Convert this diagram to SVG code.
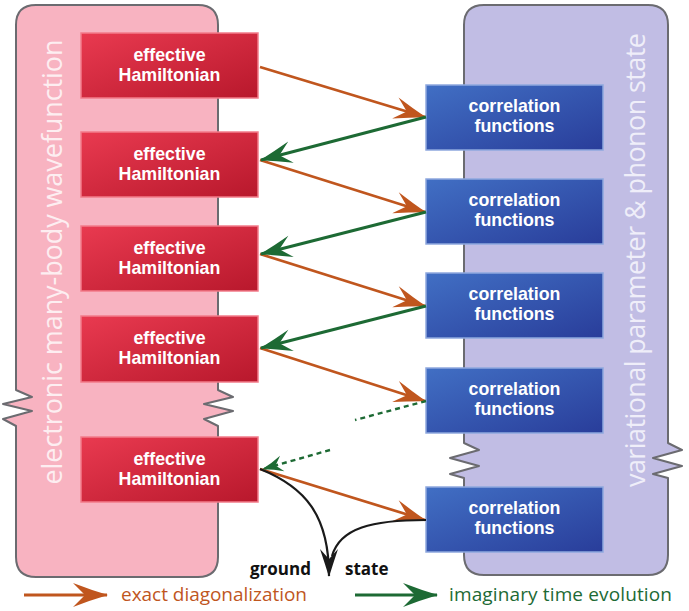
<svg xmlns="http://www.w3.org/2000/svg" width="689" height="611" viewBox="0 0 689 611">
<defs>
<linearGradient id="gRed" x1="0" y1="0" x2="1" y2="1">
<stop offset="0" stop-color="#e93a50"/><stop offset="1" stop-color="#b8182c"/>
</linearGradient>
<linearGradient id="gBlue" x1="0" y1="0" x2="1" y2="1">
<stop offset="0" stop-color="#416fc4"/><stop offset="1" stop-color="#293d9a"/>
</linearGradient>
<marker id="aO" markerUnits="userSpaceOnUse" orient="auto" refX="0" refY="0" markerWidth="40" markerHeight="30" overflow="visible">
<path d="M1,0 Q-15,-5 -31,-11 L-19,0 L-31,11 Q-15,5 1,0 Z" fill="#c0561e"/>
</marker>
<marker id="aG" markerUnits="userSpaceOnUse" orient="auto" refX="0" refY="0" markerWidth="40" markerHeight="30" overflow="visible">
<path d="M1,0 Q-15,-5 -31,-11 L-19,0 L-31,11 Q-15,5 1,0 Z" fill="#1d6a34"/>
</marker>
<marker id="aGs" markerUnits="userSpaceOnUse" orient="auto" refX="0" refY="0" markerWidth="30" markerHeight="20" overflow="visible">
<path d="M1,0 Q-10,-3 -20,-8 L-13,0 L-20,8 Q-10,3 1,0 Z" fill="#1d6a34"/>
</marker>
<marker id="aK" markerUnits="userSpaceOnUse" orient="auto" refX="0" refY="0" markerWidth="40" markerHeight="30" overflow="visible">
<path d="M1,0 Q-12,-4 -27,-9 L-17,0 L-27,9 Q-12,4 1,0 Z" fill="#1a1a1a"/>
</marker>
<marker id="aOL" markerUnits="userSpaceOnUse" orient="auto" refX="0" refY="0" markerWidth="40" markerHeight="30" overflow="visible">
<path d="M1,0 Q-16,-5 -34,-12 L-22,0 L-34,12 Q-16,5 1,0 Z" fill="#c0561e"/>
</marker>
<marker id="aGL" markerUnits="userSpaceOnUse" orient="auto" refX="0" refY="0" markerWidth="40" markerHeight="30" overflow="visible">
<path d="M1,0 Q-16,-5 -34,-12 L-22,0 L-34,12 Q-16,5 1,0 Z" fill="#1d6a34"/>
</marker>
</defs>
<style>
.panel{stroke:#6b6b70;stroke-width:2;stroke-linejoin:round}
.red{fill:url(#gRed);stroke:#f27c8a;stroke-width:1.5}
.blue{fill:url(#gBlue);stroke:#8ea8de;stroke-width:1.5}
.bt{font-family:"Liberation Sans",Arial,sans-serif;font-weight:bold;font-size:17.8px;fill:#ffffff;text-anchor:middle}
.vt{font-family:"Open Sans","DejaVu Sans",sans-serif;font-weight:normal;font-size:27px;text-anchor:middle}
.ex{fill:none;stroke:#c0561e;stroke-width:2.7;marker-end:url(#aO)}
.im{fill:none;stroke:#1d6a34;stroke-width:2.9;marker-end:url(#aG)}
.dash{fill:none;stroke:#1d6a34;stroke-width:2.4;stroke-dasharray:5 4}
.blk{fill:none;stroke:#1a1a1a;stroke-width:2.2}
.lg{font-family:"Open Sans","DejaVu Sans",sans-serif;font-size:19px}
.gs{font-family:"Open Sans","DejaVu Sans",sans-serif;font-weight:bold;font-size:17px;fill:#111}
</style>

<g id="panel-left">
<path class="panel" fill="#f8b3c1" d="M36,5 L198,5 Q218,5 218,25 L218,390 L233,397 L204,404 L233,411 L204,419 L218,426 L218,557 Q218,577 198,577 L36,577 Q16,577 16,557 L16,426 L3,419 L32,411 L3,404 L32,397 L16,390 L16,25 Q16,5 36,5 Z"/>
<text class="vt" fill="#fdeef1" transform="translate(62,262) rotate(-90)" textLength="445">electronic many-body wavefunction</text>
</g>

<g id="panel-right">
<path class="panel" fill="#c1bde4" d="M484,5 L648,5 Q668,5 668,25 L668,443 L682,450 L653,458 L682,466 L653,474 L668,478 L668,555 Q668,575 648,575 L484,575 Q464,575 464,555 L464,478 L450,474 L479,466 L450,458 L479,450 L464,443 L464,25 Q464,5 484,5 Z"/>
<text class="vt" fill="#efeef9" transform="translate(645,260) rotate(-90)" textLength="454">variational parameter &amp; phonon state</text>
</g>

<g id="h1"><rect class="red" x="81" y="33" width="177" height="65"/><text class="bt"><tspan x="169.5" y="61">effective</tspan><tspan x="169.5" y="81">Hamiltonian</tspan></text></g>
<g id="h2"><rect class="red" x="81" y="132" width="177" height="65"/><text class="bt"><tspan x="169.5" y="160">effective</tspan><tspan x="169.5" y="180">Hamiltonian</tspan></text></g>
<g id="h3"><rect class="red" x="81" y="226" width="177" height="65"/><text class="bt"><tspan x="169.5" y="254">effective</tspan><tspan x="169.5" y="274">Hamiltonian</tspan></text></g>
<g id="h4"><rect class="red" x="81" y="316" width="177" height="66"/><text class="bt"><tspan x="169.5" y="344">effective</tspan><tspan x="169.5" y="364">Hamiltonian</tspan></text></g>
<g id="h5"><rect class="red" x="81" y="437" width="177" height="65"/><text class="bt"><tspan x="169.5" y="465">effective</tspan><tspan x="169.5" y="485">Hamiltonian</tspan></text></g>

<g id="c1"><rect class="blue" x="426" y="85" width="177" height="65"/><text class="bt"><tspan x="514.5" y="112">correlation</tspan><tspan x="514.5" y="132">functions</tspan></text></g>
<g id="c2"><rect class="blue" x="426" y="179" width="177" height="65"/><text class="bt"><tspan x="514.5" y="206">correlation</tspan><tspan x="514.5" y="226">functions</tspan></text></g>
<g id="c3"><rect class="blue" x="426" y="273" width="177" height="65"/><text class="bt"><tspan x="514.5" y="300">correlation</tspan><tspan x="514.5" y="320">functions</tspan></text></g>
<g id="c4"><rect class="blue" x="426" y="368" width="177" height="65"/><text class="bt"><tspan x="514.5" y="395">correlation</tspan><tspan x="514.5" y="415">functions</tspan></text></g>
<g id="c5"><rect class="blue" x="426" y="487" width="177" height="65"/><text class="bt"><tspan x="514.5" y="514">correlation</tspan><tspan x="514.5" y="534">functions</tspan></text></g>

<g id="connectors">
<line class="ex" x1="260" y1="67" x2="425" y2="117"/>
<line class="ex" x1="260" y1="160" x2="425" y2="212"/>
<line class="ex" x1="260" y1="254" x2="425" y2="306"/>
<line class="ex" x1="260" y1="348" x2="425" y2="401"/>
<line class="ex" x1="260" y1="469" x2="425" y2="520"/>
<line class="im" x1="426" y1="117" x2="261" y2="160"/>
<line class="im" x1="426" y1="212" x2="261" y2="254"/>
<line class="im" x1="426" y1="306" x2="261" y2="348"/>
<line class="dash" x1="426" y1="401" x2="355" y2="420"/>
<line class="dash" x1="330" y1="450" x2="263" y2="469" marker-end="url(#aGs)"/>
<path class="blk" d="M260,469 C305,487 329,515 329,576" marker-end="url(#aK)"/>
<path class="blk" d="M426,520 C372,520 340,528 332,556"/>
</g>

<g id="labels">
<text class="gs" x="250" y="575">ground</text>
<text class="gs" x="345" y="575">state</text>
</g>

<g id="legend">
<line x1="24" y1="595" x2="107" y2="595" stroke="#c0561e" stroke-width="3" marker-end="url(#aOL)"/>
<text class="lg" x="121" y="601" fill="#c0561e" textLength="186">exact diagonalization</text>
<line x1="355" y1="595" x2="437" y2="595" stroke="#1d6a34" stroke-width="3" marker-end="url(#aGL)"/>
<text class="lg" x="449" y="601" fill="#1d6a34" textLength="223">imaginary time evolution</text>
</g>
</svg>
